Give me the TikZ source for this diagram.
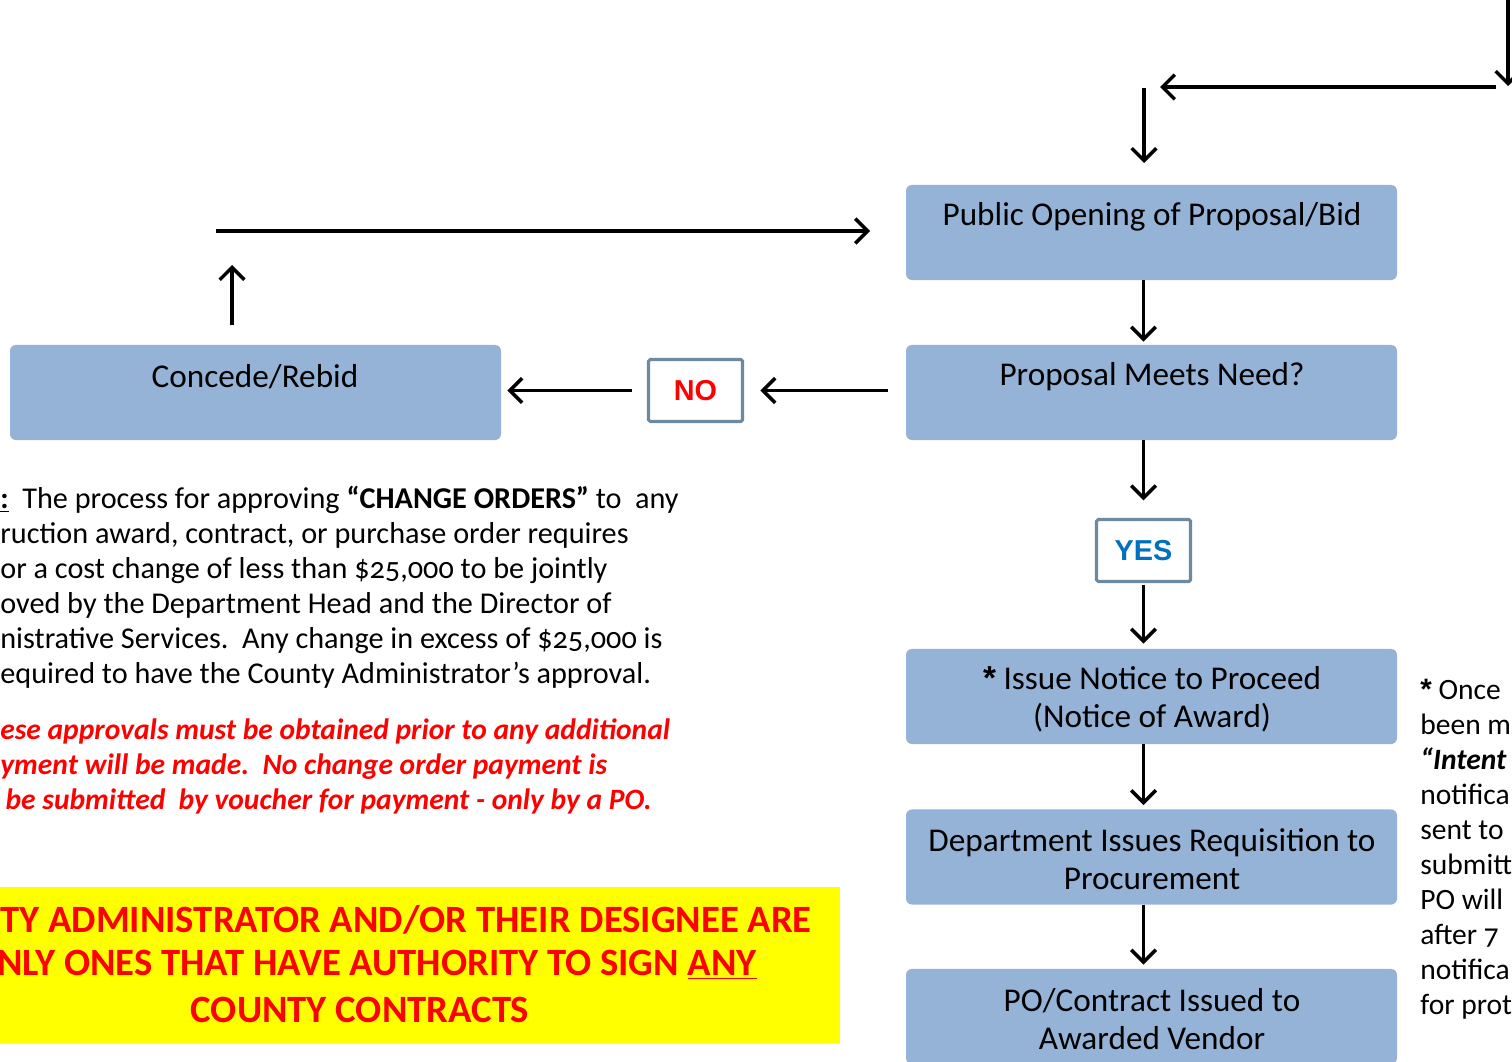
\documentclass[tikz,border=0pt]{standalone}
\usepackage{fontspec}
\setmainfont{Carlito}[Numbers=OldStyle]
\newfontfamily\arialfont{Liberation Sans}
\usetikzlibrary{arrows.meta}
\definecolor{boxblue}{HTML}{95B3D6}
\definecolor{slateedge}{HTML}{6D8AA1}
\definecolor{yesblue}{HTML}{0070C0}
\definecolor{warnred}{HTML}{FF0000}
\definecolor{bandyellow}{RGB}{255,255,0}
\newcommand{\bigstar}{{\arialfont\bfseries *}}

\begin{document}
\begin{tikzpicture}[x=0.2mm,y=-0.2mm,
  stepbox/.style={rectangle,fill=boxblue,rounded corners=3.4pt,minimum width=279.4pt,minimum height=54.1pt,inner sep=0pt},
  boxtext/.style={font=\fontsize{18.9}{21.6}\selectfont,align=center,inner sep=0pt},
  answer/.style={rectangle,draw=slateedge,line width=1.8pt,fill=white,rounded corners=1pt,minimum width=53.5pt,minimum height=35.3pt,inner sep=0pt,font=\arialfont\bfseries\fontsize{16.4}{19}\selectfont},
  arr/.style={line width=2pt,-{Straight Barb[length=7pt,width=14pt,line width=2pt]}},
  note/.style={font=\fontsize{17.2}{19.9}\selectfont,align=left,inner sep=0pt,anchor=west},
  banner/.style={font=\bfseries\fontsize{22}{25.6}\selectfont,text=warnred,inner sep=0pt}]
\useasboundingbox (0,0) rectangle (1512,1061);
\clip (0,0) rectangle (1512,1061);

% flow boxes
\node[stepbox] (pub) at (1151.5,232.5) {};
\node[stepbox] (prop) at (1151.5,392.5) {};
\node[stepbox] (con) at (255.5,392.5) {};
\node[stepbox] (issue) at (1151.5,696.5) {};
\node[stepbox] (dept) at (1151.5,857) {};
\node[stepbox] (po) at (1151.5,1016.5) {};

\node[boxtext] (pubt) at (1152,217) {Public Opening of Proposal/Bid};
\node[boxtext] (propt) at (1152,377) {Proposal Meets Need?};
\node[boxtext] (cont) at (255,377) {Concede/Rebid};
\node[boxtext] (issuet) at (1152,699) {\bigstar\ Issue Notice to Proceed\\(Notice of Award)};
\node[boxtext] (deptt) at (1152,859) {Department Issues Requisition to\\Procurement};
\node[boxtext] (pot) at (1152,1019) {PO/Contract Issued to\\Awarded Vendor};

% answers
\node[answer,text=warnred] (no) at (695.5,390.5) {NO};
\node[answer,text=yesblue] (yes) at (1143.5,550.5) {YES};

% loose ends
\coordinate (rtop) at (1508,-5);
\coordinate (rbot) at (1508,86);
\coordinate (loopR) at (1496,87);
\coordinate (loopL) at (1160,87);
\coordinate (dropT) at (1144,88);
\coordinate (dropB) at (1144,163);
\coordinate (upx) at (232,265);
\coordinate (topL) at (216,231);
\coordinate (topR) at (870,231);

\draw[arr] (rtop)--(rbot);
\draw[arr] (loopR)--(loopL);
\draw[arr] (dropT)--(dropB);
\draw[arr,shorten >=1.7pt] (pub.south -| yes.north)--(prop.north -| yes.north);
\draw[arr,shorten >=10pt] (prop.south -| yes.north)--(yes.north);
\draw[arr,shorten <=0.8pt,shorten >=2.8pt] (yes.south)--(issue.north -| yes.south);
\draw[arr,shorten >=2.3pt] (issue.south -| yes.south)--(dept.north -| yes.south);
\draw[arr,shorten >=2.3pt] (dept.south -| yes.south)--(po.north -| yes.south);
\draw[arr,shorten <=10pt,shorten >=9.3pt] (prop.west |- no.east)--(no.east);
\draw[arr,shorten <=8.5pt,shorten >=3.4pt] (no.west)--(con.east |- no.west);
\draw[arr,shorten <=11pt] (con.north -| upx)--(upx);
\draw[arr] (topL)--(topR);

% change order note
\node[note] (memo) at (0,587) {\underline{\textbf{:}}\ \ The process for approving \textbf{“CHANGE ORDERS”} to\ \ any\\
ruction award, contract, or purchase order requires\\
or a cost change of less than \$25,000 to be jointly\\
oved by the Department Head and the Director of\\
nistrative Services.\ \ Any change in excess of \$25,000 is\\
equired to have the County Administrator’s approval.};
\node[note,font=\bfseries\itshape\fontsize{16.8}{19.9}\selectfont,text=warnred] (memored) at (0,766) {ese approvals must be obtained prior to any additional\\
yment will be made.\ \ No change order payment is\\
\hspace*{3pt}be submitted\ \ by voucher for payment - only by a PO.};

% signing banner
\node[rectangle,fill=bandyellow,minimum width=478pt,minimum height=88.8pt,inner sep=0pt] (band) at (420,965) {};
\node[banner,anchor=east] (bandA) at (812,920) {TY ADMINISTRATOR AND/OR THEIR DESIGNEE ARE};
\node[banner,anchor=east] (bandB) at (757,965) {NLY ONES THAT HAVE AUTHORITY TO SIGN \underline{ANY}};
\node[banner] (bandC) at (360,1010) {COUNTY CONTRACTS};

% side note
\node[note,font=\fontsize{16.8}{19.9}\selectfont] (side) at (1420,849) {\bigstar\ Once\\
been m\\
\textbf{\textit{“Intent}}\\
notifica\\
sent to\\
submitt\\
PO will\\
after 7\\
notifica\\
for prot};
\end{tikzpicture}
\end{document}
